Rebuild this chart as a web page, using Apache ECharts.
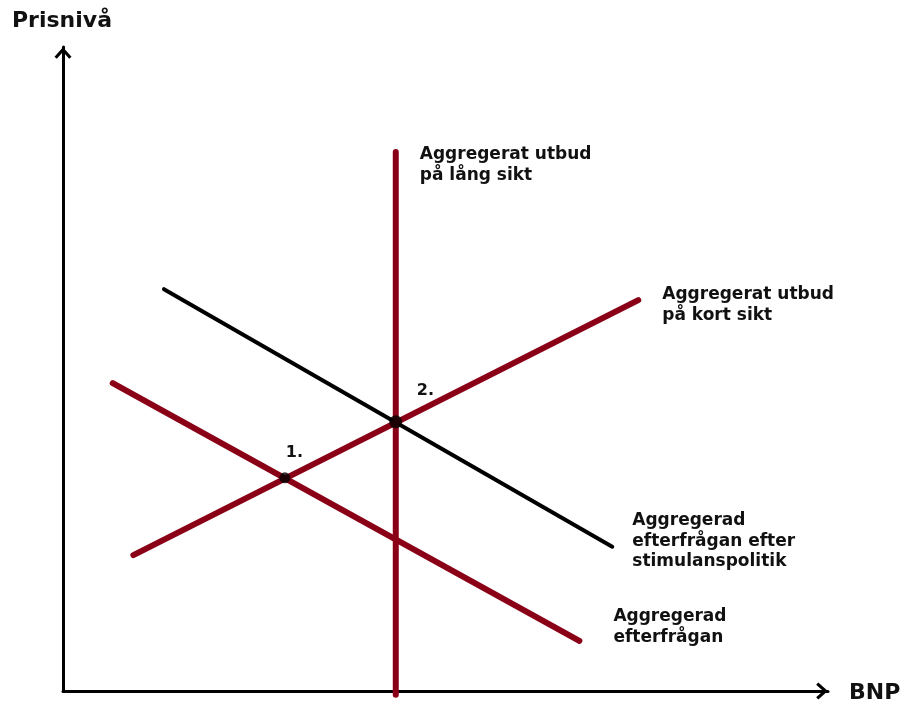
<!DOCTYPE html>
<html>
<head>
<meta charset="utf-8">
<title>AD-AS</title>
<script src="https://cdn.jsdelivr.net/npm/echarts@6/dist/echarts.min.js"></script>
<style>
  html, body { margin: 0; padding: 0; background: #fff; }
  #chart { width: 907px; height: 705px; }
</style>
</head>
<body>
<div id="chart"></div>
<script>
// kurvornas ändpunkter [BNP, prisnivå] (skala 0-100)
const lrasPoints = [[43.5, -0.6], [43.5, 83.7]]
const srasPoints = [[9.2, 21.1], [75.2, 60.7]]
const adPoints = [[6.5, 47.8], [67.5, 7.8]]
const ad2Points = [[13.2, 62.4], [71.8, 22.4]]
const eqPoints = [[29.0, 33.1], [43.5, 41.8]]
const eqLabels = ['1.', '2.']
const lrasLabel = 'Aggregerat utbud\npå lång sikt'
const srasLabel = 'Aggregerat utbud\npå kort sikt'
const ad2Label = 'Aggregerad\nefterfrågan efter\nstimulanspolitik'
const adLabel = 'Aggregerad\nefterfrågan'
const yName = 'Prisnivå'
const xName = 'BNP'

const red = '#8a0016'
const font = '"DejaVu Sans", sans-serif'
// öppen pil (chevron), ritad uppåt
const chevron = 'path://M0,9 L8,0 L16,9 L13.8,11 L8,4.4 L2.2,11 Z'

const chart = echarts.init(document.getElementById('chart'))

const axisCommon = {
  type: 'value',
  min: 0,
  max: 100,
  splitLine: { show: false },
  axisTick: { show: false },
  axisLabel: { show: false },
  axisLine: {
    show: true,
    symbol: ['none', chevron],
    symbolSize: [17, 12],
    symbolOffset: [0, -6],
    lineStyle: { color: '#000', width: 3 }
  }
}

chart.setOption({
  animation: false,
  grid: { left: 63, right: 79, top: 47, bottom: 14 },
  xAxis: axisCommon,
  yAxis: axisCommon,
  series: [
    { type: 'line', data: adPoints, showSymbol: false, lineStyle: { color: red, width: 6, cap: 'round' } },
    { type: 'line', data: ad2Points, showSymbol: false, lineStyle: { color: '#000', width: 4, cap: 'round' } },
    { type: 'line', data: srasPoints, showSymbol: false, lineStyle: { color: red, width: 6, cap: 'round' } },
    { type: 'line', data: lrasPoints, showSymbol: false, clip: false, lineStyle: { color: red, width: 6, cap: 'round' } },
    {
      type: 'scatter',
      data: eqPoints,
      symbolSize: function(v, p) { return p.dataIndex === 0 ? 11 : 13 },
      itemStyle: { color: '#000' },
      z: 5
    }
  ]
})

// texterna placeras relativt kurvornas ändpunkter
function px(p) {
  return chart.convertToPixel({ gridIndex: 0 }, p)
}
function txt(text, pos, dx, dy, size, lh) {
  return {
    type: 'text',
    x: pos[0] + dx,
    y: pos[1] + dy,
    style: {
      text: text,
      fill: '#111',
      font: 'bold ' + size + 'px ' + font,
      lineHeight: lh,
      verticalAlign: 'top'
    },
    z: 10
  }
}

chart.setOption({
  graphic: [
    txt(yName, [0, 0], 12, 8, 22, 26),
    txt(xName, [0, 0], 849, 680, 22, 26),
    txt(lrasLabel, px(lrasPoints[1]), 24, -8, 17, 21),
    txt(srasLabel, px(srasPoints[1]), 24, -16, 17, 21),
    txt(ad2Label, px(ad2Points[1]), 20, -36, 17, 20.5),
    txt(adLabel, px(adPoints[1]), 34, -35, 17, 21),
    txt(eqLabels[0], px(eqPoints[0]), 1, -35, 16, 20),
    txt(eqLabels[1], px(eqPoints[1]), 21, -41, 16, 20)
  ]
})
</script>
</body>
</html>
